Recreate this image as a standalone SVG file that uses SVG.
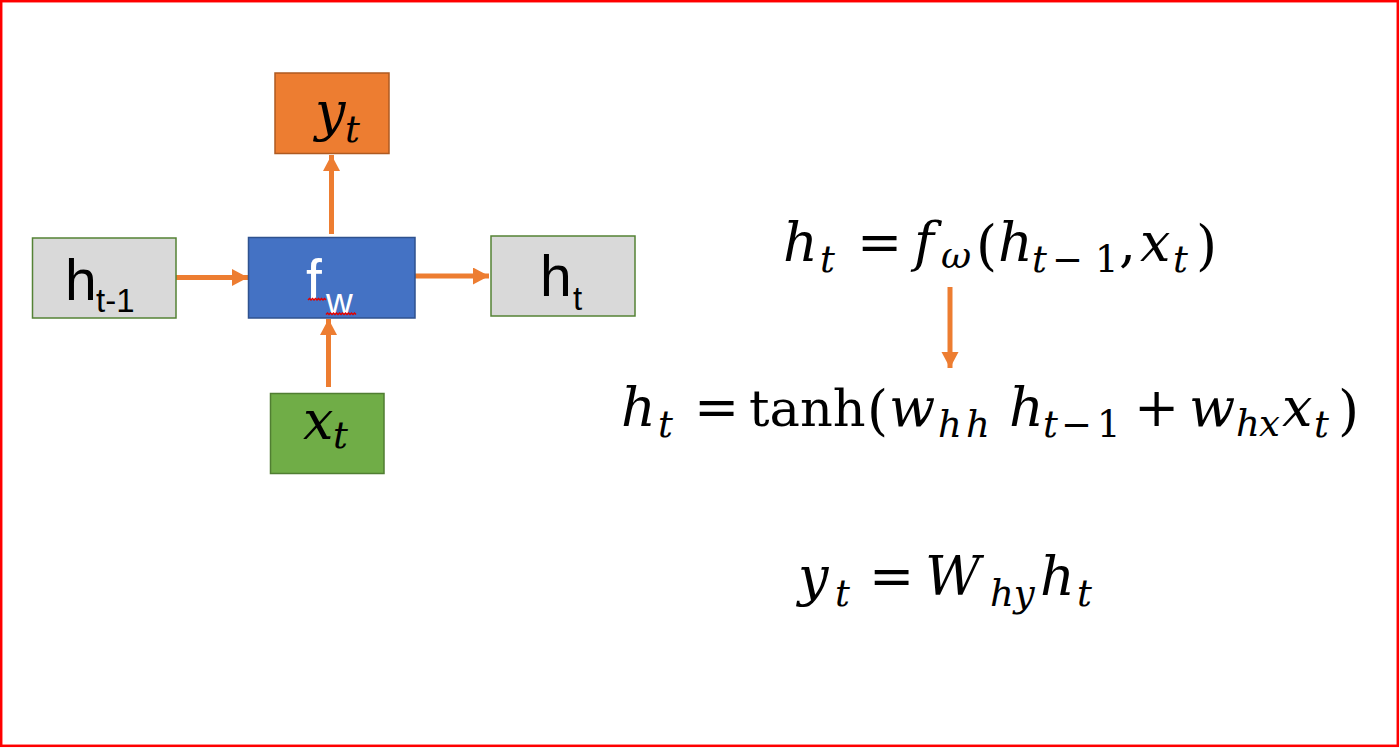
<svg xmlns="http://www.w3.org/2000/svg" width="1400" height="748" viewBox="0 0 1400 748">
<style>
.sans{font-family:"Liberation Sans",Arial,sans-serif;}
.m{font-family:"DejaVu Serif","Liberation Serif",serif;font-size:54px;fill:#000;}
.i{font-style:italic;}
.s{font-size:37px;}
.arr{stroke:#ED7D31;stroke-width:5;fill:none;}
.sq{stroke:#E00000;stroke-width:1.5;fill:none;}
</style>
<defs>
<marker id="ah" markerUnits="userSpaceOnUse" markerWidth="17" markerHeight="18" refX="16" refY="8.5" orient="auto">
<path d="M0,0 L16,8.5 L0,17 z" fill="#ED7D31"/>
</marker>
</defs>
<rect x="0" y="0" width="1400" height="748" fill="#fff"/>
<rect x="1.2" y="1.2" width="1396.6" height="744.6" fill="none" stroke="#FF0000" stroke-width="2.5"/>

<g id="connectors">
<line class="arr" x1="176" y1="277.5" x2="248" y2="277.5" marker-end="url(#ah)"/>
<line class="arr" x1="415" y1="276" x2="489" y2="276" marker-end="url(#ah)"/>
<line class="arr" x1="328.5" y1="387" x2="328.5" y2="319" marker-end="url(#ah)"/>
<line class="arr" x1="331.5" y1="234" x2="331.5" y2="155" marker-end="url(#ah)"/>
<line class="arr" x1="950" y1="287" x2="950" y2="368" marker-end="url(#ah)"/>
</g>

<g id="node-yt">
<rect x="275" y="73" width="114" height="80.5" fill="#ED7D31" stroke="#AE5A21" stroke-width="1.5"/>
<text class="m i"><tspan x="315" y="130">y</tspan><tspan class="s" x="345" y="141.5">t</tspan></text>
</g>

<g id="node-htm1">
<rect x="32.5" y="238" width="143.5" height="80" fill="#D9D9D9" stroke="#548235" stroke-width="1.5"/>
<text class="sans" x="65" y="299.5" font-size="57">h<tspan font-size="33" x="96" y="311.5">t-1</tspan></text>
</g>

<g id="node-fw">
<rect x="248.5" y="237.5" width="166.5" height="80.5" fill="#4472C4" stroke="#2F528F" stroke-width="1.5"/>
<text class="sans" x="306" y="300" font-size="57" fill="#fff">f<tspan font-size="37" x="326" y="313.5">w</tspan></text>
<path class="sq" d="M308,300 l1.5,-1.5 l1.5,1.5 l1.5,-1.5 l1.5,1.5 l1.5,-1.5 l1.5,1.5 l1.5,-1.5 l1.5,1.5 l1.5,-1.5 l1.5,1.5 l1.5,-1.5 l1.5,1.5"/>
<path class="sq" d="M326,314.5 l1.5,-1.5 l1.5,1.5 l1.5,-1.5 l1.5,1.5 l1.5,-1.5 l1.5,1.5 l1.5,-1.5 l1.5,1.5 l1.5,-1.5 l1.5,1.5 l1.5,-1.5 l1.5,1.5 l1.5,-1.5 l1.5,1.5 l1.5,-1.5 l1.5,1.5 l1.5,-1.5 l1.5,1.5 l1.5,-1.5 l1.5,1.5"/>
</g>

<g id="node-ht">
<rect x="491" y="236" width="144" height="80" fill="#D9D9D9" stroke="#548235" stroke-width="1.5"/>
<text class="sans" x="540" y="296" font-size="57">h<tspan font-size="33" x="573" y="310">t</tspan></text>
</g>

<g id="node-xt">
<rect x="270.5" y="393.5" width="113.5" height="80" fill="#70AD47" stroke="#507E32" stroke-width="1.5"/>
<text class="m i"><tspan x="303" y="439">x</tspan><tspan class="s" x="333" y="448">t</tspan></text>
</g>

<g id="eq1">
<text class="m"><tspan class="i" x="783" y="261">h</tspan><tspan class="i s" x="820" y="272">t</tspan><tspan x="857" y="261">=</tspan><tspan class="i" x="914" y="261">f</tspan><tspan class="i s" x="941" y="268">ω</tspan><tspan x="976" y="264">(</tspan><tspan class="i" x="998" y="261">h</tspan><tspan class="i s" x="1032" y="272">t</tspan><tspan class="s" x="1052" y="272">−</tspan><tspan class="s" x="1095" y="272">1</tspan><tspan x="1119" y="261">,</tspan><tspan class="i" x="1140" y="261">x</tspan><tspan class="i s" x="1173" y="272">t</tspan><tspan x="1196" y="264">)</tspan></text>
</g>

<g id="eq2">
<text class="m"><tspan class="i" x="621" y="426">h</tspan><tspan class="i s" x="658" y="437">t</tspan><tspan x="694" y="426">=</tspan><tspan x="749" y="426" font-size="51">tanh</tspan><tspan x="867" y="429">(</tspan><tspan class="i" x="889" y="426">w</tspan><tspan class="i s" x="938" y="437">h</tspan><tspan class="i s" x="966" y="437">h</tspan><tspan class="i" x="1009" y="426">h</tspan><tspan class="i s" x="1043" y="437">t</tspan><tspan class="s" x="1061" y="437">−</tspan><tspan class="s" x="1097" y="437">1</tspan><tspan x="1134" y="426">+</tspan><tspan class="i" x="1189" y="426">w</tspan><tspan class="i s" x="1236" y="436">h</tspan><tspan class="i s" x="1259" y="436">x</tspan><tspan class="i" x="1282" y="426">x</tspan><tspan class="i s" x="1314" y="437">t</tspan><tspan x="1338" y="429">)</tspan></text>
</g>

<g id="eq3">
<text class="m"><tspan class="i" x="798" y="595">y</tspan><tspan class="i s" x="835" y="606">t</tspan><tspan x="869" y="595">=</tspan><tspan class="i" x="925" y="595">W</tspan><tspan class="i s" x="990" y="606">hy</tspan><tspan class="i" x="1040" y="595">h</tspan><tspan class="i s" x="1077" y="606">t</tspan></text>
</g>
</svg>
